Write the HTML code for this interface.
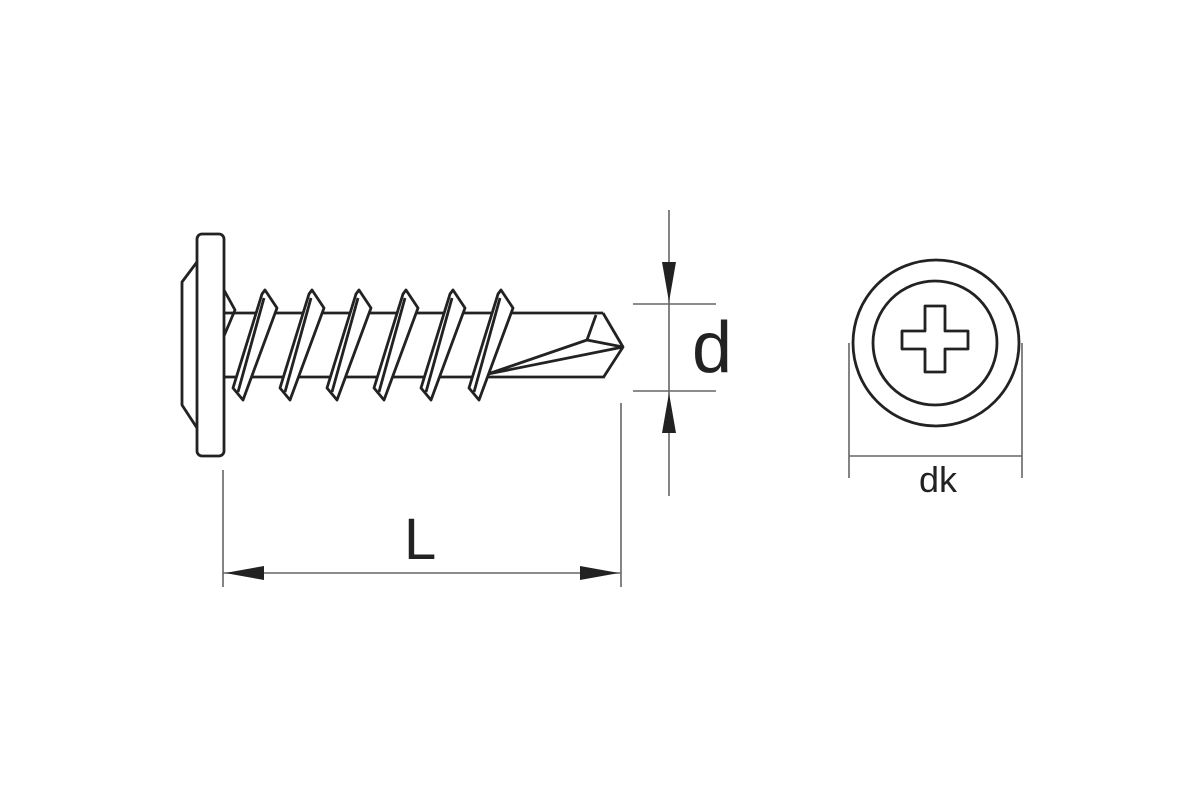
<!DOCTYPE html>
<html><head><meta charset="utf-8"><style>html,body{margin:0;padding:0;background:#fff}svg{display:block}</style></head>
<body>
<svg width="1200" height="800" viewBox="0 0 1200 800" xmlns="http://www.w3.org/2000/svg">
<rect width="1200" height="800" fill="#fff"/>
<g fill="none" stroke="#222" stroke-width="2.8" stroke-linejoin="round">
  <polyline points="197,262 182,282 182,405 197,428"/>
  <rect x="197" y="234" width="27" height="222" rx="5" fill="#fff"/>
  <line x1="224" y1="313" x2="603" y2="313"/>
  <line x1="224" y1="377" x2="603" y2="377"/>
  <polyline points="224,290 235,310 224,336"/>
  <polyline points="603,313 623,347 603,378"/>
  <polyline points="596,315 587,340 623,347"/>
  <line x1="587" y1="340" x2="488" y2="374"/>
  <line x1="488" y1="374" x2="623" y2="347"/>
  <g fill="#fff">
    <polygon points="262,294 265,290 277,308 243,400 233,388"/>
    <polygon points="309,294 312,290 324,308 290,400 280,388"/>
    <polygon points="356,294 359,290 371,308 337,400 327,388"/>
    <polygon points="403,294 406,290 418,308 384,400 374,388"/>
    <polygon points="450,294 453,290 465,308 431,400 421,388"/>
    <polygon points="498,294 501,290 513,308 479,400 469,388"/>
  </g>
  <line x1="264" y1="298" x2="238" y2="392"/>
  <line x1="311" y1="298" x2="285" y2="392"/>
  <line x1="358" y1="298" x2="332" y2="392"/>
  <line x1="405" y1="298" x2="379" y2="392"/>
  <line x1="452" y1="298" x2="426" y2="392"/>
  <line x1="500" y1="298" x2="474" y2="392"/>
  <circle cx="936" cy="343" r="83"/>
  <circle cx="935" cy="343" r="62"/>
  <polygon points="925,306 945,306 945,331 968,331 968,349 945,349 945,372 925,372 925,349 902,349 902,331 925,331"/>
</g>
<g stroke="#666" stroke-width="1.6" fill="none">
  <line x1="669" y1="210" x2="669" y2="496"/>
  <line x1="633" y1="304" x2="716" y2="304"/>
  <line x1="633" y1="391" x2="716" y2="391"/>
  <line x1="223" y1="470" x2="223" y2="587"/>
  <line x1="621" y1="403" x2="621" y2="587"/>
  <line x1="223" y1="573" x2="621" y2="573"/>
  <line x1="849" y1="343" x2="849" y2="478"/>
  <line x1="1022" y1="343" x2="1022" y2="478"/>
  <line x1="849" y1="456" x2="1022" y2="456"/>
</g>
<g fill="#222">
  <polygon points="662,262 676,262 669,302"/>
  <polygon points="662,433 676,433 669,393"/>
  <polygon points="225,573 264,566 264,580"/>
  <polygon points="619,573 580,566 580,580"/>
</g>
<g font-family="Liberation Sans, sans-serif" fill="#222">
  <text x="692" y="372" font-size="72">d</text>
  <text x="404" y="559" font-size="58">L</text>
  <text x="938" y="492" font-size="36" text-anchor="middle">dk</text>
</g>
</svg>
</body></html>
